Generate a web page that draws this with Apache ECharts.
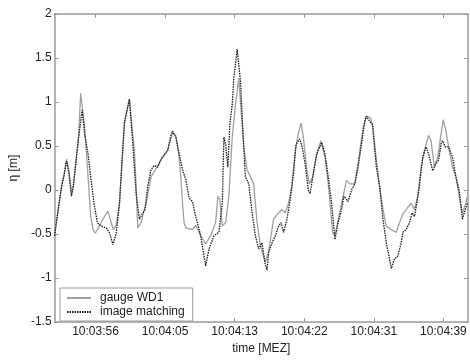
<!DOCTYPE html>
<html>
<head>
<meta charset="utf-8">
<script src="https://cdn.jsdelivr.net/npm/echarts@6/dist/echarts.min.js"></script>
<style>
  html, body { margin: 0; padding: 0; background: #fff; }
  #chart { width: 470px; height: 360px; }
</style>
</head>
<body>
<div id="chart"></div>
<script>
// time axis (seconds from plot start) and tick labels
const tickTimes = [5, 13.5, 22, 30.5, 39, 47.5]
const tickLabels = ['10:03:56', '10:04:05', '10:04:13', '10:04:22', '10:04:31', '10:04:39']

// gauge WD1 [t (s), eta (m)]
const gaugeWD1 = [
  [0, -0.49], [0.45, -0.22], [0.85, 0.04], [1.18, 0.18], [1.46, 0.35], [1.74, 0.23],
  [2.06, -0.03], [2.27, 0.04], [2.67, 0.37], [2.95, 0.65], [3.19, 1.1], [3.68, 0.71],
  [4.09, 0.15], [4.41, -0.3], [4.7, -0.45], [4.98, -0.49], [5.5, -0.4], [6.11, -0.3],
  [6.52, -0.24], [6.92, -0.37], [7.16, -0.45], [7.53, -0.4], [7.93, -0.15], [8.22, 0.3],
  [8.54, 0.77], [9.14, 1.04], [9.47, 0.7], [9.75, 0.45], [9.96, 0.05], [10.16, -0.43],
  [10.56, -0.37], [11.17, -0.15], [11.78, 0.15], [12.18, 0.21], [12.99, 0.34], [13.81, 0.45],
  [14.41, 0.65], [14.81, 0.62], [15.22, 0.37], [15.42, 0.15], [15.63, -0.15], [15.82, -0.37],
  [16.03, -0.43], [16.84, -0.45], [17.24, -0.4], [17.85, -0.52], [18.46, -0.61], [19.06, -0.52],
  [19.67, -0.37], [19.95, -0.07], [20.19, -0.11], [20.49, -0.41], [20.89, -0.37], [21.29, -0.07],
  [21.7, 0.6], [22.1, 0.97], [22.5, 1.27], [22.79, 0.9], [23.11, 0.49], [23.52, 0.23],
  [23.92, 0.15], [24.32, 0.07], [24.74, -0.37], [25.14, -0.63], [25.74, -0.82], [26.14, -0.7],
  [26.75, -0.33], [27.36, -0.26], [27.77, -0.22], [28.17, -0.26], [28.57, -0.15], [28.99, 0.04],
  [29.39, 0.45], [29.79, 0.65], [30.11, 0.76], [30.39, 0.6], [30.81, 0.23], [31.12, 0.07],
  [31.54, 0.15], [32.02, 0.41], [32.54, 0.56], [33.03, 0.37], [33.43, 0.07], [33.72, -0.22],
  [33.96, -0.48], [34.24, -0.52], [34.61, -0.35], [35.06, -0.15], [35.66, 0.11], [36.06, 0.07],
  [36.67, 0.07], [37.07, 0.3], [37.68, 0.71], [38.09, 0.84], [38.58, 0.82], [38.89, 0.71],
  [39.31, 0.34], [39.71, 0.04], [40.11, -0.22], [40.52, -0.41], [41.13, -0.45], [41.74, -0.48],
  [42.14, -0.37], [42.5, -0.28], [42.95, -0.22], [43.56, -0.15], [43.96, -0.22], [44.36, -0.07],
  [44.77, 0.26], [45.17, 0.45], [45.69, 0.62], [45.99, 0.56], [46.39, 0.26], [46.79, 0.37],
  [47.2, 0.63], [47.48, 0.8], [47.81, 0.67], [48.21, 0.45], [48.61, 0.26], [49.02, 0.15],
  [49.42, -0.07], [49.82, -0.26], [50.23, -0.15], [50.43, -0.07]
]

// image matching [t (s), eta (m)]
const imageMatching = [
  [0, -0.52], [0.45, -0.22], [0.85, 0.04], [1.18, 0.18], [1.46, 0.33], [1.74, 0.2],
  [2.06, -0.07], [2.27, 0.02], [2.67, 0.37], [2.95, 0.6], [3.36, 0.91], [3.68, 0.63],
  [4.09, 0.41], [4.41, 0.15], [4.82, -0.15], [5.22, -0.37], [5.71, -0.41], [6.31, -0.43],
  [6.72, -0.49], [7.13, -0.62], [7.53, -0.49], [7.93, -0.15], [8.22, 0.3], [8.54, 0.77],
  [9.14, 1.03], [9.56, 0.52], [9.96, -0.04], [10.36, -0.33], [10.77, -0.26], [11.05, -0.22],
  [11.38, 0.04], [11.78, 0.23], [12.18, 0.28], [12.59, 0.26], [12.99, 0.35], [13.39, 0.4],
  [13.81, 0.45], [14.21, 0.62], [14.41, 0.67], [14.81, 0.6], [15.22, 0.41], [15.63, 0.23],
  [16.03, 0.12], [16.43, -0.09], [16.84, -0.13], [17.24, -0.3], [17.85, -0.52], [18.25, -0.75],
  [18.46, -0.86], [18.86, -0.67], [19.47, -0.52], [20.07, -0.48], [20.49, -0.15], [20.68, 0.6],
  [20.89, 0.52], [21.17, 0.26], [21.41, 0.75], [21.7, 0.97], [21.89, 1.27], [22.31, 1.6],
  [22.71, 1.23], [23.04, 0.6], [23.31, 0.15], [23.72, 0.07], [24.13, -0.26], [24.53, -0.52],
  [24.93, -0.67], [25.34, -0.6], [25.74, -0.85], [25.95, -0.91], [26.14, -0.71], [26.56, -0.6],
  [26.96, -0.52], [27.36, -0.41], [27.65, -0.37], [27.97, -0.48], [28.38, -0.33], [28.78, -0.11],
  [29.18, 0.19], [29.51, 0.52], [29.91, 0.58], [30.2, 0.51], [30.6, 0.3], [31.0, 0],
  [31.21, -0.04], [31.61, 0.19], [32.02, 0.41], [32.63, 0.54], [33.03, 0.41], [33.43, 0.15],
  [33.84, -0.15], [34.24, -0.56], [34.64, -0.37], [35.06, -0.22], [35.34, -0.07], [35.86, -0.13],
  [36.27, 0], [36.67, 0.07], [37.07, 0.26], [37.49, 0.52], [37.89, 0.78], [38.09, 0.84],
  [38.49, 0.78], [38.82, 0.75], [39.31, 0.26], [39.71, 0.04], [40.11, -0.33], [40.52, -0.6],
  [40.92, -0.78], [41.13, -0.89], [41.53, -0.78], [41.93, -0.75], [42.34, -0.6], [42.54, -0.48],
  [42.95, -0.45], [43.35, -0.37], [43.68, -0.26], [43.96, -0.3], [44.24, -0.15], [44.56, 0.04],
  [44.97, 0.37], [45.38, 0.49], [45.69, 0.41], [46.18, 0.22], [46.59, 0.3], [46.91, 0.34],
  [47.2, 0.52], [47.39, 0.56], [47.72, 0.49], [48.12, 0.49], [48.61, 0.37], [49.02, 0.15],
  [49.42, 0], [49.82, -0.33], [50.03, -0.26], [50.43, -0.15]
]

const tMin = 0
const tMax = 50.5
const axisColor = '#9a9a9a'
const textColor = '#222'
const font = 'Liberation Sans, Arial, sans-serif'

const chart = echarts.init(document.getElementById('chart'))

const xAxisBase = {
  type: 'value',
  min: tMin,
  max: tMax,
  splitLine: { show: false },
  axisLine: { onZero: false, lineStyle: { color: axisColor, width: 1.5 } },
  axisTick: { inside: true, length: 4, customValues: tickTimes, lineStyle: { color: axisColor } },
}
const yAxisBase = {
  type: 'value',
  min: -1.5,
  max: 2,
  interval: 0.5,
  splitLine: { show: false },
  axisLine: { onZero: false, lineStyle: { color: axisColor, width: 1.5 } },
  axisTick: { inside: true, length: 4, lineStyle: { color: axisColor } },
}

const option = {
  animation: false,
  grid: { left: 53, top: 14, right: 2, bottom: 33 },
  xAxis: [
    {
      ...xAxisBase,
      position: 'bottom',
      name: 'time [MEZ]',
      nameLocation: 'middle',
      nameGap: 19,
      nameTextStyle: { color: textColor, fontSize: 12, fontFamily: font },
      axisLabel: {
        customValues: tickTimes,
        margin: 4,
        color: textColor,
        fontSize: 12,
        fontFamily: font,
        formatter: (v) => tickLabels[tickTimes.indexOf(v)] || '',
      },
    },
    { ...xAxisBase, position: 'top', axisLabel: { show: false } },
  ],
  yAxis: [
    {
      ...yAxisBase,
      position: 'left',
      name: 'η [m]',
      nameLocation: 'middle',
      nameGap: 33,
      nameTextStyle: { color: textColor, fontSize: 12, fontFamily: font },
      axisLabel: { margin: 3, color: textColor, fontSize: 12, fontFamily: font },
    },
    { ...yAxisBase, position: 'right', axisLabel: { show: false } },
  ],
  legend: {
    orient: 'vertical',
    left: 60,
    top: 288,
    padding: [4, 8, 3, 6],
    itemGap: 2,
    itemWidth: 24,
    itemHeight: 12,
    backgroundColor: '#fff',
    borderColor: axisColor,
    borderWidth: 1,
    itemStyle: { opacity: 0 },
    textStyle: { color: textColor, fontSize: 12, fontFamily: font, padding: [0, 0, 0, 4] },
    data: ['gauge WD1', 'image matching'],
  },
  series: [
    {
      name: 'gauge WD1',
      type: 'line',
      symbol: 'none',
      data: gaugeWD1,
      lineStyle: { color: '#a0a0a0', width: 1.3 },
      itemStyle: { color: '#a0a0a0' },
      z: 2,
    },
    {
      name: 'image matching',
      type: 'line',
      symbol: 'none',
      data: imageMatching,
      lineStyle: { color: '#1a1a1a', width: 1.3, type: [1.5, 1] },
      itemStyle: { color: '#1a1a1a' },
      z: 3,
    },
  ],
}

chart.setOption(option)
</script>
</body>
</html>
